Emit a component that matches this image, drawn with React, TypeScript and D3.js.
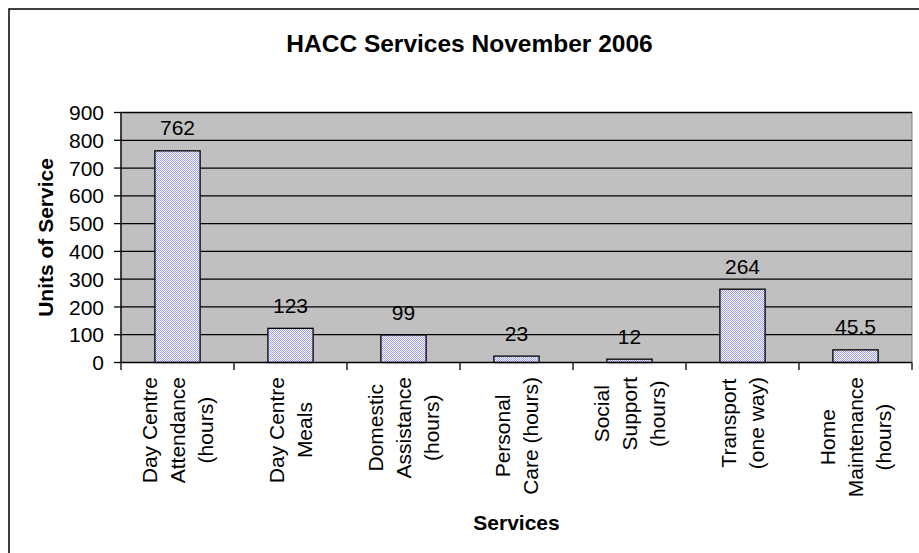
import React from "react";
import * as d3 from "d3";

const categories: string[][] = [
  ["Day Centre", "Attendance", "(hours)"],
  ["Day Centre", "Meals"],
  ["Domestic", "Assistance", "(hours)"],
  ["Personal", "Care (hours)"],
  ["Social", "Support", "(hours)"],
  ["Transport", "(one way)"],
  ["Home", "Maintenance", "(hours)"],
];
const values: number[] = [762, 123, 99, 23, 12, 264, 45.5];
const valueLabels: string[] = ["762", "123", "99", "23", "12", "264", "45.5"];
const yTicks: number[] = [0, 100, 200, 300, 400, 500, 600, 700, 800, 900];

const W = 919;
const H = 553;
const plot = { left: 121, right: 912, top: 112.5, bottom: 362.5 };
const FONT = "'Liberation Sans', Arial, sans-serif";

function measure(text: string, font: string): number {
  if (typeof document === "undefined") return text.length * 10;
  const c = document.createElement("canvas");
  const ctx = c.getContext("2d");
  if (!ctx) return text.length * 10;
  ctx.font = font;
  return ctx.measureText(text).width;
}

export default function App() {
  const x = d3
    .scaleBand<number>()
    .domain(values.map((_, i) => i))
    .range([plot.left, plot.right])
    .paddingInner(0.6)
    .paddingOuter(0.3);
  const band = d3
    .scaleBand<number>()
    .domain(values.map((_, i) => i))
    .range([plot.left, plot.right]);
  const y = d3.scaleLinear().domain([0, 900]).range([plot.bottom, plot.top]);

  const catFont = `21px ${FONT}`;
  const lineH = 28;
  const labelTop = 377;

  return (
    <svg
      width={W}
      height={H}
      style={{ position: "absolute", left: 0, top: 0, background: "#fff" }}
      fontFamily={FONT}
    >
      <defs>
        <pattern id="chk" width={2} height={2} patternUnits="userSpaceOnUse">
          <rect width={2} height={2} fill="#ffffff" />
          <rect width={1} height={1} fill="#9999ff" />
          <rect x={1} y={1} width={1} height={1} fill="#9999ff" />
        </pattern>
      </defs>
      {/* outer frame */}
      <rect x={9} y={9} width={W + 20} height={H + 20} fill="#fff" stroke="#000" strokeWidth={1.5} />
      {/* title */}
      <text x={469.5} y={52} textAnchor="middle" fontWeight="bold" fontSize={24.5} fill="#000">
        HACC Services November 2006
      </text>
      {/* plot area */}
      <rect
        x={plot.left}
        y={plot.top}
        width={plot.right - plot.left}
        height={plot.bottom - plot.top}
        fill="#c0c0c0"
        stroke="#808080"
        strokeWidth={1}
      />
      {/* gridlines */}
      {yTicks.slice(1).map((t) => (
        <line key={t} x1={plot.left} x2={plot.right} y1={y(t)} y2={y(t)} stroke="#000" strokeWidth={1.3} />
      ))}
      {/* bars */}
      {values.map((v, i) => (
        <rect
          key={i}
          x={x(i)}
          y={y(v)}
          width={x.bandwidth()}
          height={y(0) - y(v)}
          fill="url(#chk)"
          stroke="#000"
          strokeWidth={1.3}
        />
      ))}
      {/* data labels */}
      {values.map((v, i) => (
        <text
          key={i}
          x={(x(i) as number) + x.bandwidth() / 2}
          y={y(v) - 15.5}
          textAnchor="middle"
          fontSize={21}
          fill="#000"
        >
          {valueLabels[i]}
        </text>
      ))}
      {/* y axis */}
      <line x1={plot.left} x2={plot.left} y1={plot.top} y2={370} stroke="#000" strokeWidth={1.3} />
      {yTicks.map((t) => (
        <g key={t}>
          <line x1={114} x2={plot.left} y1={y(t)} y2={y(t)} stroke="#000" strokeWidth={1.3} />
          <text x={104} y={y(t)} dy="0.36em" textAnchor="end" fontSize={21} fill="#000">
            {t}
          </text>
        </g>
      ))}
      {/* x axis */}
      <line x1={plot.left} x2={plot.right} y1={plot.bottom} y2={plot.bottom} stroke="#000" strokeWidth={1.3} />
      {values.map((_, i) => (
        <line
          key={i}
          x1={(band(i) as number) + band.bandwidth()}
          x2={(band(i) as number) + band.bandwidth()}
          y1={plot.bottom}
          y2={370}
          stroke="#000"
          strokeWidth={1.3}
        />
      ))}
      {/* category labels */}
      {categories.map((lines, i) => {
        const cx = (band(i) as number) + band.bandwidth() / 2;
        const maxLen = Math.max(...lines.map((l) => measure(l, catFont)));
        const cy = labelTop + maxLen / 2;
        const n = lines.length;
        return (
          <g key={i} transform={`translate(${cx},${cy}) rotate(-90)`}>
            {lines.map((l, j) => (
              <text key={j} x={0} y={7 + (j - (n - 1) / 2) * lineH} textAnchor="middle" fontSize={21} fill="#000">
                {l}
              </text>
            ))}
          </g>
        );
      })}
      {/* axis titles */}
      <text
        transform={`translate(53,${(plot.top + plot.bottom) / 2}) rotate(-90)`}
        textAnchor="middle"
        fontWeight="bold"
        fontSize={21}
        fill="#000"
      >
        Units of Service
      </text>
      <text x={(plot.left + plot.right) / 2} y={530} textAnchor="middle" fontWeight="bold" fontSize={21} fill="#000">
        Services
      </text>
    </svg>
  );
}
